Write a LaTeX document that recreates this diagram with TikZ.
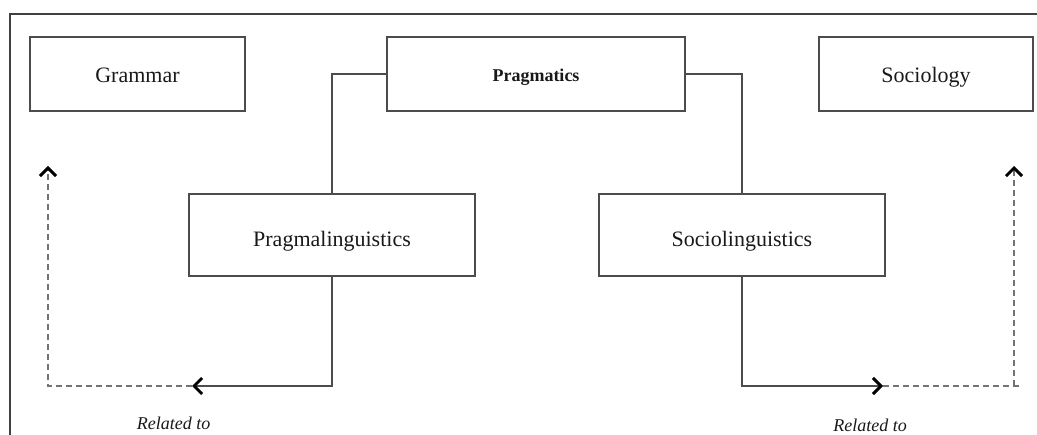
\documentclass[tikz,border=0pt]{standalone}
\usepackage{fontspec}
\setmainfont{Liberation Serif}
\usetikzlibrary{arrows.meta}
\begin{document}
\begin{tikzpicture}[x=1pt,y=-1pt,
  boxnode/.style={draw=black!70, line width=1.4pt, inner sep=0pt, minimum height=74pt, text depth=0pt, text height=18pt, font=\fontsize{22}{26}\selectfont, text=black!90},
  conn/.style={draw=black!70, line width=1.4pt},
  chev/.style={-{Straight Barb[length=8pt,width=16pt,line width=3pt,color=black]}},
  dashline/.style={draw=black!55, line width=1.6pt, dash pattern=on 6pt off 4pt},
  rel/.style={anchor=base, font=\fontsize{18}{22}\selectfont\itshape, text=black!90}
]
\useasboundingbox (0,0) rectangle (1037,435);
% outer frame
\draw[draw=black!75, line width=1.3pt] (10,435) -- (10,14) -- (1037,14);
% boxes
\node[boxnode, minimum width=215pt] (gram) at (137.5,74) {Grammar};
\node[boxnode, minimum width=298pt, text height=16pt, font=\fontsize{18}{22}\selectfont\bfseries] (prag) at (536,74) {Pragmatics};
\node[boxnode, minimum width=214pt] (soc) at (926,74) {Sociology};
\node[boxnode, minimum width=286pt, minimum height=82pt, text height=24pt] (pl) at (332,235) {Pragmalinguistics};
\node[boxnode, minimum width=286pt, minimum height=82pt, text height=24pt] (sl) at (742,235) {Sociolinguistics};
% coordinates
\coordinate (la) at (192,386);
\coordinate (lc) at (48,386);
\coordinate (lt) at (48,166);
\coordinate (ra) at (883,386);
\coordinate (rend) at (1022,386);
\coordinate (rc) at (1014,386);
\coordinate (rt) at (1014,166);
% connectors
\draw[conn] (prag.west) -| (pl.north);
\draw[conn] (prag.east) -| (sl.north);
\draw[conn, chev] (pl.south) |- (la);
\draw[conn, chev] (sl.south) |- (ra);
\draw[dashline, chev] (la) -- (lc) -- (lt);
\draw[dashline] (ra) -- (rend);
\draw[dashline, chev] (rc) -- (rt);
% labels
\node[rel] (rel1) at (173.5,430) {Related to};
\node[rel] (rel2) at (870,432) {Related to};
\end{tikzpicture}
\end{document}
